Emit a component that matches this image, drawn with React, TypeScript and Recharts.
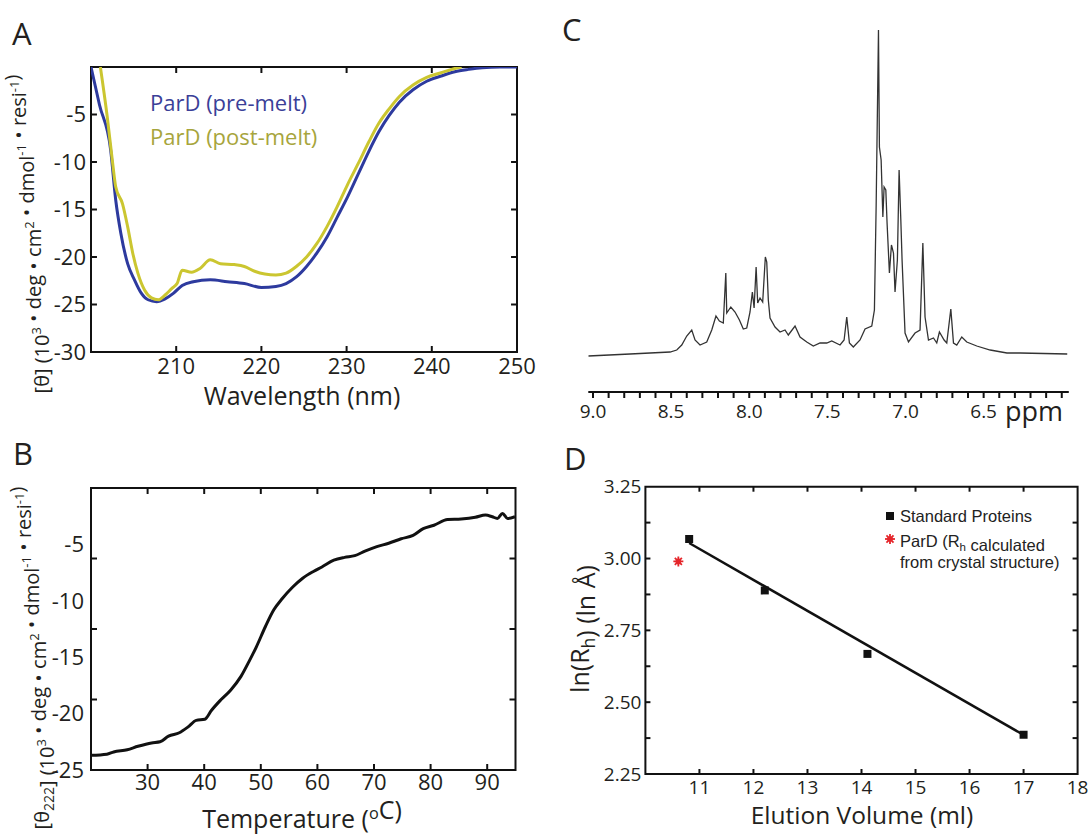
import React from "react";
import { LineChart, ComposedChart, Line, Scatter, XAxis, YAxis, ReferenceArea, ReferenceLine } from "recharts";

const SANS = "'Open Sans', 'DejaVu Sans', sans-serif";
const ARIAL = "'Liberation Sans', Arial, sans-serif";
const INK = "#231f20";
const BLUE = "#2d3a9e";
const YELLOW = "#cbc630";
const RED = "#e5262b";

// A: CD spectra, wavelength (nm) vs mean residue ellipticity
const preNm = [200.0, 201.0, 202.3, 202.9, 203.5, 204.3, 205.1, 205.9, 206.7, 207.7, 208.7, 209.7, 210.7, 212.0, 214.0, 216.0, 218.0, 220.0, 221.7, 222.9, 224.1, 225.3, 226.5, 227.7, 228.9, 230.1, 231.4, 232.6, 233.8, 235.0, 236.2, 237.8, 239.4, 241.1, 242.7, 244.3, 245.9, 248.0, 250.0];
const preTheta = [0, -4.0, -8.7, -14.0, -17.5, -20.7, -22.4, -23.8, -24.5, -24.7, -24.4, -23.8, -23.0, -22.6, -22.4, -22.6, -22.8, -23.2, -23.1, -22.8, -22.1, -21.0, -19.6, -17.9, -15.8, -13.7, -11.2, -8.9, -6.8, -5.1, -3.7, -2.4, -1.5, -0.95, -0.5, -0.25, -0.07, 0, 0];
const postNm = [201.1, 201.9, 202.5, 202.9, 203.7, 204.3, 204.9, 205.5, 206.3, 207.1, 207.9, 208.7, 209.5, 210.1, 210.7, 211.8, 212.8, 214.0, 215.2, 216.8, 218.0, 219.2, 220.4, 221.7, 222.9, 224.1, 225.3, 226.5, 227.7, 228.9, 230.1, 231.4, 232.6, 233.8, 235.0, 236.2, 237.8, 239.4, 241.1, 242.7, 243.5];
const postTheta = [0, -5.2, -9.8, -12.6, -14.4, -16.8, -19.6, -21.7, -23.5, -24.3, -24.5, -24.0, -23.3, -22.8, -21.4, -21.6, -21.2, -20.3, -20.7, -20.8, -21.0, -21.5, -21.8, -21.9, -21.7, -21.0, -20.0, -18.6, -16.8, -14.7, -12.4, -10.1, -7.9, -5.9, -4.4, -3.1, -1.9, -1.1, -0.6, -0.15, 0];
const wlTicks = [210, 220, 230, 240, 250];
const wlMarks = [210, 220, 230, 240];
const thetaTicks = [-30, -25, -20, -15, -10, -5];
const thetaMarks = [-25, -20, -15, -10, -5];

// B: thermal melt at 222 nm
const tempC = [20.0, 22.8, 24.0, 26.4, 28.3, 30.7, 32.2, 33.7, 35.6, 37.1, 38.6, 40.1, 41.3, 42.9, 44.7, 46.5, 48.0, 49.2, 50.8, 52.3, 53.8, 55.6, 57.4, 59.3, 60.8, 62.9, 64.8, 66.6, 68.4, 70.5, 72.6, 74.8, 76.9, 78.7, 80.6, 83.0, 85.4, 87.9, 89.7, 90.9, 91.8, 92.7, 93.6, 94.9];
const theta222 = [-23.7, -23.6, -23.4, -23.2, -22.9, -22.6, -22.5, -22.0, -21.7, -21.2, -20.6, -20.5, -19.7, -18.8, -17.9, -16.7, -15.3, -14.1, -12.3, -10.8, -9.8, -8.8, -8.0, -7.4, -7.0, -6.4, -6.15, -6.0, -5.6, -5.2, -4.9, -4.5, -4.2, -3.6, -3.3, -2.8, -2.75, -2.6, -2.4, -2.55, -2.7, -2.25, -2.7, -2.55];
const tempTicks = [30, 40, 50, 60, 70, 80, 90];
const meltTicks = [-25, -20, -15, -10, -5];
const meltMarks = [-18.75, -12.5, -6.25];

// C: 1D 1H NMR, amide/aromatic region
const ppm = [9.03, 8.763, 8.507, 8.464, 8.432, 8.4, 8.368, 8.347, 8.315, 8.272, 8.24, 8.213, 8.191, 8.166, 8.15, 8.144, 8.118, 8.091, 8.063, 8.038, 8.016, 7.995, 7.98, 7.969, 7.956, 7.946, 7.931, 7.914, 7.897, 7.888, 7.878, 7.867, 7.835, 7.803, 7.771, 7.75, 7.707, 7.675, 7.632, 7.59, 7.547, 7.504, 7.472, 7.419, 7.393, 7.376, 7.359, 7.334, 7.291, 7.259, 7.216, 7.199, 7.188, 7.173, 7.167, 7.156, 7.145, 7.137, 7.126, 7.118, 7.103, 7.09, 7.077, 7.067, 7.052, 7.041, 7.03, 7.022, 7.003, 6.981, 6.939, 6.907, 6.889, 6.875, 6.853, 6.821, 6.8, 6.783, 6.753, 6.736, 6.71, 6.693, 6.672, 6.64, 6.608, 6.544, 6.458, 6.351, 6.266, 5.965];
const intensity = [0, 2, 4, 6, 11, 20, 26, 16, 11, 14, 26, 40, 35, 33, 83, 43, 49, 44, 36, 27, 28, 44, 64, 48, 89, 53, 58, 54, 99, 94, 56, 38, 29, 24, 26, 21, 30, 19, 14, 10, 13, 13, 15, 11, 16, 39, 13, 9, 16, 27, 30, 46, 149, 326, 209, 196, 139, 169, 166, 133, 83, 111, 103, 64, 96, 186, 136, 96, 23, 14, 23, 26, 113, 39, 16, 18, 13, 24, 16, 13, 47, 13, 11, 19, 14, 10, 6, 3, 3, 2];
const ppmTicks = Array.from({ length: 31 }, (_, i) => +(6 + i * 0.1).toFixed(1));
const ppmLabels = [9.0, 8.5, 8.0, 7.5, 7.0, 6.5];

// D: gel filtration calibration
const elutionStd = [10.81, 12.21, 14.11, 17.0];
const lnRhStd = [3.068, 2.889, 2.668, 2.387];
const elutionParD = [10.61];
const lnRhParD = [2.99];
const fitElution = [10.81, 17.0];
const fitLnRh = [3.054, 2.386];
const elutionTicks = [11, 12, 13, 14, 15, 16, 17, 18];
const elutionMarks = [11, 12, 13, 14, 15, 16, 17];
const lnRhTicks = [2.25, 2.5, 2.75, 3.0, 3.25];
const lnRhMarks = [2.375, 2.5, 2.625, 2.75, 2.875, 3.0, 3.125];

const zip = (xs: number[], ys: number[]) => xs.map((x, i) => ({ x, y: ys[i] }));

const tickText = (fontSize: number) => ({ fill: INK, fontSize, fontFamily: SANS });

// small inward marks on all four sides of a boxed plot, placed through the chart's own scales
function edgeMarks(xMarks: number[], yMarks: number[], xd: number[], yd: number[], lx: number, ly: number) {
  const s = { stroke: "#111", strokeWidth: 2 };
  return [
    ...xMarks.flatMap((v) => [
      <ReferenceLine key={`b${v}`} segment={[{ x: v, y: yd[0] }, { x: v, y: yd[0] + ly }]} {...s} />,
      <ReferenceLine key={`t${v}`} segment={[{ x: v, y: yd[1] }, { x: v, y: yd[1] - ly }]} {...s} />,
    ]),
    ...yMarks.flatMap((v) => [
      <ReferenceLine key={`l${v}`} segment={[{ x: xd[0], y: v }, { x: xd[0] + lx, y: v }]} {...s} />,
      <ReferenceLine key={`r${v}`} segment={[{ x: xd[1], y: v }, { x: xd[1] - lx, y: v }]} {...s} />,
    ]),
  ];
}

function Asterisk({ cx, cy }: { cx: number; cy: number }) {
  const r = 5;
  return (
    <g stroke={RED} strokeWidth={1.8}>
      {[0, 45, 90, 135].map((a) => {
        const dx = r * Math.cos((a * Math.PI) / 180);
        const dy = r * Math.sin((a * Math.PI) / 180);
        return <line key={a} x1={cx - dx} y1={cy - dy} x2={cx + dx} y2={cy + dy} />;
      })}
      <circle cx={cx} cy={cy} r={2.8} fill={RED} stroke="none" />
    </g>
  );
}

function PanelA() {
  const xd = [200, 250];
  const yd = [-30, 0];
  return (
    <LineChart width={540} height={420} margin={{ top: 67, right: 23, bottom: 28, left: 46 }}>
      <XAxis dataKey="x" type="number" domain={xd} ticks={wlTicks} interval={0} height={40} axisLine={false} tickLine={false} tickSize={0} tickMargin={6} tick={tickText(22)} allowDataOverflow />
      <YAxis type="number" domain={yd} ticks={thetaTicks} interval={0} width={45} axisLine={false} tickLine={false} tickSize={0} tickMargin={5} tick={tickText(22)} allowDataOverflow />
      <ReferenceArea x1={xd[0]} x2={xd[1]} y1={yd[0]} y2={yd[1]} fill="none" stroke="#111" strokeWidth={2} />
      {edgeMarks(wlMarks, thetaMarks, xd, yd, 0.7, 0.63)}
      <Line data={zip(preNm, preTheta)} dataKey="y" type="monotone" stroke={BLUE} strokeWidth={3} dot={false} isAnimationActive={false} />
      <Line data={zip(postNm, postTheta)} dataKey="y" type="monotone" stroke={YELLOW} strokeWidth={3} dot={false} isAnimationActive={false} />
    </LineChart>
  );
}

function PanelB() {
  const xd = [20, 95];
  const yd = [-25, 0];
  return (
    <LineChart width={540} height={418} margin={{ top: 68, right: 24.5, bottom: 28, left: 46 }}>
      <XAxis dataKey="x" type="number" domain={xd} ticks={tempTicks} interval={0} height={40} axisLine={false} tickLine={false} tickSize={0} tickMargin={4} tick={tickText(22)} allowDataOverflow />
      <YAxis type="number" domain={yd} ticks={meltTicks} interval={0} width={45} axisLine={false} tickLine={false} tickSize={0} tickMargin={7} tick={tickText(22)} allowDataOverflow />
      <ReferenceArea x1={xd[0]} x2={xd[1]} y1={yd[0]} y2={yd[1]} fill="none" stroke="#111" strokeWidth={2} />
      {edgeMarks(tempTicks, meltMarks, xd, yd, 1.06, 0.53)}
      <Line data={zip(tempC, theta222)} dataKey="y" type="monotone" stroke="#111" strokeWidth={3} dot={false} isAnimationActive={false} />
    </LineChart>
  );
}

function PanelC() {
  return (
    <LineChart width={551} height={430} margin={{ top: 20, right: 22.2, bottom: 0, left: 48.3 }}>
      <XAxis
        dataKey="x"
        type="number"
        domain={[5.955, 9.03]}
        reversed
        ticks={ppmTicks}
        interval={0}
        height={38}
        tickSize={6}
        tickMargin={7}
        tickFormatter={(v: number) => (ppmLabels.includes(v) ? v.toFixed(1) : "")}
        tick={tickText(19)}
        stroke="#111"
        strokeWidth={2}
        allowDataOverflow
      />
      <YAxis hide type="number" domain={[-36, 336]} allowDataOverflow />
      <Line data={zip(ppm, intensity)} dataKey="y" type="linear" stroke="#333" strokeWidth={1.3} dot={false} isAnimationActive={false} />
    </LineChart>
  );
}

function PanelD() {
  const xd = [10, 18];
  const yd = [2.25, 3.25];
  return (
    <ComposedChart width={551} height={418} margin={{ top: 66.7, right: 13.4, bottom: 24, left: 45.4 }}>
      <XAxis dataKey="x" type="number" domain={xd} ticks={elutionTicks} interval={0} height={40} axisLine={false} tickLine={false} tickSize={0} tickMargin={7} tick={tickText(19)} allowDataOverflow />
      <YAxis type="number" domain={yd} ticks={lnRhTicks} interval={0} width={60} axisLine={false} tickLine={false} tickSize={0} tickMargin={4}
        tickFormatter={(v: number) => v.toFixed(2)} tick={tickText(19)} allowDataOverflow />
      <ReferenceArea x1={xd[0]} x2={xd[1]} y1={yd[0]} y2={yd[1]} fill="none" stroke="#111" strokeWidth={2} />
      {edgeMarks(elutionMarks, lnRhMarks, xd, yd, 0.093, 0.0174)}
      <Line data={zip(fitElution, fitLnRh)} dataKey="y" type="linear" stroke="#111" strokeWidth={2.5} dot={false} isAnimationActive={false} />
      <Scatter data={zip(elutionStd, lnRhStd)} dataKey="y" shape="square" fill="#111" isAnimationActive={false} />
      <Scatter
        data={zip(elutionParD, lnRhParD)}
        dataKey="y"
        shape={(p: any) => <Asterisk cx={p.cx} cy={p.cy} />}
        isAnimationActive={false}
      />
    </ComposedChart>
  );
}

function Sup({ children, size }: { children: React.ReactNode; size: number }) {
  return (
    <>
      <tspan dy={-size * 0.38} fontSize={size * 0.65}>{children}</tspan>
      <tspan dy={size * 0.38} />
    </>
  );
}

function Sub({ children, size }: { children: React.ReactNode; size: number }) {
  return (
    <>
      <tspan dy={size * 0.25} fontSize={size * 0.7}>{children}</tspan>
      <tspan dy={-size * 0.25} />
    </>
  );
}

function UnitsTail({ size }: { size: number }) {
  return (
    <>
      {" (10"}<Sup size={size}>3</Sup>
      {" • deg • cm"}<Sup size={size}>2</Sup>
      {" • dmol"}<Sup size={size}>-1</Sup>
      {" • resi"}<Sup size={size}>-1</Sup>
      {")"}
    </>
  );
}

function Overlay() {
  const t = 20;
  return (
    <svg width={1091} height={838} style={{ position: "absolute", left: 0, top: 0, pointerEvents: "none" }} fontFamily={SANS} fill={INK}>
      <text x={12} y={45} fontSize={31}>A</text>
      <text x={13} y={465} fontSize={31}>B</text>
      <text x={562} y={41} fontSize={31}>C</text>
      <text x={564} y={470} fontSize={31}>D</text>

      <text x={150} y={111} fontSize={22} fill="#3b3f98">ParD (pre-melt)</text>
      <text x={150} y={145} fontSize={22} fill="#a7a53c">ParD (post-melt)</text>

      <text transform="translate(49,234) rotate(-90)" textAnchor="middle" fontSize={t}>
        {"[θ]"}<UnitsTail size={t} />
      </text>
      <text transform="translate(49,658) rotate(-90)" textAnchor="middle" fontSize={t}>
        {"[θ"}<Sub size={t}>222</Sub>{"]"}<UnitsTail size={t} />
      </text>
      <text transform="translate(589,629) rotate(-90)" textAnchor="middle" fontSize={25}>
        {"ln(R"}<Sub size={25}>h</Sub>{") (ln Å)"}
      </text>

      <text x={302} y={405} fontSize={25} textAnchor="middle">Wavelength (nm)</text>
      <text x={302} y={828} fontSize={25} textAnchor="middle">
        {"Temperature ("}<Sup size={25}>o</Sup>{"C)"}
      </text>
      <text x={862} y={824} fontSize={24.5} textAnchor="middle">Elution Volume (ml)</text>
      <text x={1005} y={421} fontSize={27}>ppm</text>

      <g fontFamily={ARIAL} fontSize={16.5} fill="#222">
        <rect x={886} y={512} width={8} height={8} fill="#111" />
        <text x={900} y={522}>Standard Proteins</text>
        <Asterisk cx={890} cy={539} />
        <text x={900} y={547}>
          {"ParD (R"}<Sub size={16.5}>h</Sub>{" calculated"}
        </text>
        <text x={900} y={568}>from crystal structure)</text>
      </g>
    </svg>
  );
}

export default function App() {
  const cell = (left: number, top: number): React.CSSProperties => ({ position: "absolute", left, top });
  return (
    <div style={{ position: "absolute", left: 0, top: 0, width: 1091, height: 838, background: "#fff", overflow: "hidden" }}>
      <div style={cell(0, 0)}><PanelA /></div>
      <div style={cell(0, 420)}><PanelB /></div>
      <div style={cell(540, 0)}><PanelC /></div>
      <div style={cell(540, 420)}><PanelD /></div>
      <Overlay />
    </div>
  );
}
